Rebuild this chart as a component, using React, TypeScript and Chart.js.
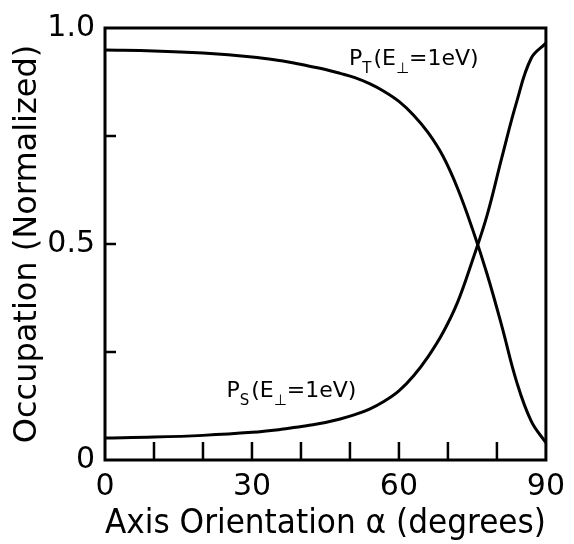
import React, { useEffect, useRef } from "react";
import { Chart, registerables } from "chart.js";

Chart.register(...registerables);

const alphaDeg = [0, 10, 20, 30, 36, 39, 42, 45, 48, 51, 54, 57, 60, 63, 66, 69, 72, 75, 78, 81, 84, 87, 90];
const pTriplet = [0.949, 0.947, 0.942, 0.933, 0.924, 0.918, 0.911, 0.904, 0.895, 0.885, 0.871, 0.853, 0.83, 0.798, 0.757, 0.703, 0.628, 0.535, 0.43, 0.31, 0.182, 0.09, 0.04];
const pSinglet = [0.051, 0.053, 0.057, 0.064, 0.071, 0.076, 0.081, 0.087, 0.095, 0.105, 0.118, 0.136, 0.16, 0.195, 0.24, 0.295, 0.366, 0.462, 0.567, 0.7, 0.828, 0.93, 0.965];

const xTickValues = [0, 10, 20, 30, 40, 50, 60, 70, 80, 90];
const xTickLabels: Record<number, string> = { 0: "0", 30: "30", 60: "60", 90: "90" };
const yTickValues = [0, 0.25, 0.5, 0.75, 1];
const yTickLabels: Record<number, string> = { 0: "0", 0.5: "0.5", 1: "1.0" };

const xTitle = "Axis Orientation \u03b1 (degrees)";
const yTitle = "Occupation (Normalized)";

// annotation anchors in data coordinates (alpha, occupation)
const tripletLabelAt = [49.8, 0.928];
const singletLabelAt = [24.8, 0.159];
const tripletSub = "T";
const singletSub = "S";

const FONT = "'DejaVu Sans', sans-serif";

function drawLabel(ctx: CanvasRenderingContext2D, x: number, y: number, sub: string) {
  const big = `22px ${FONT}`;
  const small = `15px ${FONT}`;
  ctx.textBaseline = "middle";
  ctx.textAlign = "left";
  ctx.fillStyle = "#000";
  let cx = x;
  ctx.font = big;
  ctx.fillText("P", cx, y);
  cx += ctx.measureText("P").width;
  ctx.font = small;
  ctx.fillText(sub, cx, y + 10);
  cx += ctx.measureText(sub).width + 2;
  ctx.font = big;
  ctx.fillText("(E", cx, y);
  cx += ctx.measureText("(E").width;
  ctx.font = small;
  ctx.fillText("\u22a5", cx, y + 10);
  cx += ctx.measureText("\u22a5").width;
  ctx.font = big;
  ctx.fillText("=1eV)", cx, y);
}

const framePlugin = {
  id: "frameTicks",
  afterDatasetsDraw(chart: any) {
    const { ctx, chartArea, scales } = chart;
    const xs = scales.x;
    const ys = scales.y;
    ctx.save();
    ctx.strokeStyle = "#000";
    ctx.lineWidth = 3;
    ctx.strokeRect(chartArea.left, chartArea.top, chartArea.right - chartArea.left, chartArea.bottom - chartArea.top);
    ctx.lineWidth = 2.5;
    ctx.beginPath();
    xTickValues.forEach((v) => {
      if (v === 0 || v === 90) return;
      const px = xs.getPixelForValue(v);
      ctx.moveTo(px, chartArea.bottom);
      ctx.lineTo(px, chartArea.bottom - 18);
    });
    yTickValues.forEach((v) => {
      if (v === 0 || v === 1) return;
      const py = ys.getPixelForValue(v);
      ctx.moveTo(chartArea.left, py);
      ctx.lineTo(chartArea.left + 11, py);
    });
    ctx.stroke();
    drawLabel(ctx, xs.getPixelForValue(tripletLabelAt[0]), ys.getPixelForValue(tripletLabelAt[1]), tripletSub);
    drawLabel(ctx, xs.getPixelForValue(singletLabelAt[0]), ys.getPixelForValue(singletLabelAt[1]), singletSub);
    ctx.restore();
  },
};

export default function App() {
  const ref = useRef<HTMLCanvasElement | null>(null);
  useEffect(() => {
    document.body.style.margin = "0";
    const canvas = ref.current;
    if (!canvas) return;
    const chart = new Chart(canvas, {
      type: "line",
      data: {
        datasets: [
          {
            label: "PT",
            data: alphaDeg.map((a, i) => ({ x: a, y: pTriplet[i] })),
            borderColor: "#000",
            borderWidth: 3,
            pointRadius: 0,
            tension: 0.4,
            fill: false,
          },
          {
            label: "PS",
            data: alphaDeg.map((a, i) => ({ x: a, y: pSinglet[i] })),
            borderColor: "#000",
            borderWidth: 3,
            pointRadius: 0,
            tension: 0.4,
            fill: false,
          },
        ],
      },
      options: {
        animation: false,
        responsive: false,
        maintainAspectRatio: false,
        layout: { padding: { top: 25, right: 23, left: 0, bottom: 0 } },
        plugins: { legend: { display: false }, tooltip: { enabled: false } },
        scales: {
          x: {
            type: "linear",
            min: 0,
            max: 90,
            afterBuildTicks: (s: any) => {
              s.ticks = xTickValues.map((v) => ({ value: v }));
            },
            afterFit: (s: any) => {
              s.height = 84;
            },
            grid: { display: false, drawTicks: false },
            border: { display: false },
            ticks: {
              autoSkip: false,
              maxRotation: 0,
              padding: 9,
              color: "#000",
              font: { family: FONT, size: 30 },
              callback: (v: any) => xTickLabels[v as number] ?? "",
            },
            title: {
              display: true,
              text: xTitle,
              color: "#000",
              font: { family: FONT, size: 33 },
              padding: { top: 0, bottom: 0 },
            },
          },
          y: {
            type: "linear",
            min: 0,
            max: 1,
            afterBuildTicks: (s: any) => {
              s.ticks = yTickValues.map((v) => ({ value: v }));
            },
            afterFit: (s: any) => {
              s.width = 105;
            },
            grid: { display: false, drawTicks: false },
            border: { display: false },
            ticks: {
              autoSkip: false,
              padding: 10,
              color: "#000",
              font: { family: FONT, size: 30 },
              callback: (v: any) => yTickLabels[v as number] ?? "",
            },
            title: {
              display: true,
              text: yTitle,
              color: "#000",
              font: { family: FONT, size: 32 },
              padding: { top: 8, bottom: 0 },
            },
          },
        },
      },
      plugins: [framePlugin],
    } as any);
    return () => chart.destroy();
  }, []);
  return <canvas ref={ref} width={574} height={544} style={{ display: "block" }} />;
}
